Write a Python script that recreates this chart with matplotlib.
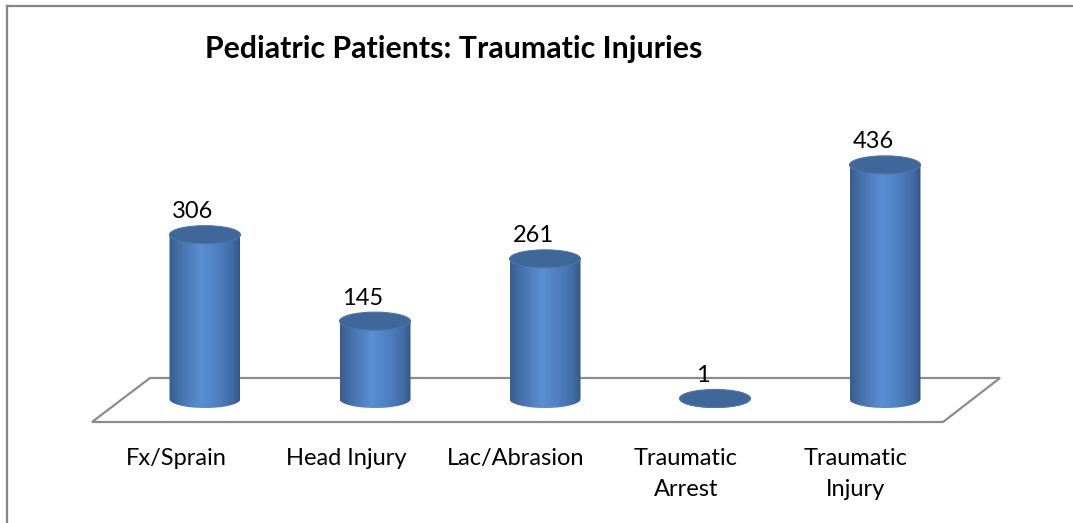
import matplotlib
matplotlib.use("Agg")
import matplotlib.pyplot as plt
import numpy as np
from matplotlib.patches import Ellipse, Polygon
from matplotlib.colors import LinearSegmentedColormap
from matplotlib.lines import Line2D

categories = ["Fx/Sprain", "Head Injury", "Lac/Abrasion", "Traumatic\nArrest", "Traumatic\nInjury"]
values = [306, 145, 261, 1, 436]
title = "Pediatric Patients: Traumatic Injuries"

plt.rcParams['font.family'] = ['Lato', 'DejaVu Sans']

W, H = 1073, 523
fig = plt.figure(figsize=(W / 100, H / 100), dpi=100)
ax = fig.add_axes([0, 0, 1, 1])

# pixel scale of the 3d-ish view
px_cat = 170.0      # pixels per category
px_val = 0.537      # pixels per unit value
x0_px, y0_px = 205.0, 399.0   # centre of first bar base (pixels from top-left)

ax.set_xlim(-x0_px / px_cat, (W - x0_px) / px_cat)
ax.set_ylim(-(H - y0_px) / px_val, y0_px / px_val)
ax.axis("off")

def px2x(dx):
    return dx / px_cat

def px2y(dy):
    return dy / px_val

# floor
back_y = px2y(y0_px - 378)
front_y = px2y(y0_px - 422)
floor = Polygon([(px2x(150 - 205), back_y), (px2x(1000 - 205), back_y),
                 (px2x(943 - 205), front_y), (px2x(92 - 205), front_y)],
                closed=True, facecolor="white", edgecolor="#8c8c8c", lw=1.6, zorder=1)
ax.add_patch(floor)

bw = px2x(71)      # cylinder width
eh = px2y(18)      # ellipse height

cmap = LinearSegmentedColormap.from_list("cyl", [
    (0.0, "#395c8c"), (0.15, "#4571ab"), (0.45, "#5a8fd3"),
    (0.7, "#4d7fc0"), (0.9, "#416ba3"), (1.0, "#365784")])
grad = np.linspace(0, 1, 256).reshape(1, -1)

t = np.linspace(np.pi, 2 * np.pi, 60)
for i, v in enumerate(values):
    # body with bottom half-ellipse
    xs = i + bw / 2 * np.cos(t)
    ys = eh / 2 * np.sin(t)
    pts = list(zip(xs, ys)) + [(i + bw / 2, v), (i - bw / 2, v)]
    body = Polygon(pts, closed=True, facecolor="none", edgecolor="none", zorder=2)
    ax.add_patch(body)
    im = ax.imshow(grad, cmap=cmap, extent=(i - bw / 2, i + bw / 2, -eh / 2, v),
                   aspect="auto", zorder=2, interpolation="bilinear")
    im.set_clip_path(body)
    top = Ellipse((i, v), bw, eh, facecolor="#3f6799", edgecolor="#4a76ad",
                  lw=0.8, zorder=3)
    ax.add_patch(top)
    ax.text(i - px2x(12), v + px2y(23), str(v), ha="center", va="center",
            fontsize=17, color="black", zorder=4)
    ax.text(i - px2x(29), px2y(y0_px - 448), categories[i], ha="center", va="top",
            fontsize=17, color="black", linespacing=1.58)

ax.text(0, px2y(y0_px - 49), title, ha="left", va="center",
        fontsize=21.8, fontweight="bold", color="black")

# chart border (left and top visible)
fig.add_artist(Line2D([6.5 / W, 6.5 / W], [0, 1 - 5.5 / H], transform=fig.transFigure,
                      color="#868686", lw=1.6))
fig.add_artist(Line2D([6.5 / W, 1], [1 - 5.5 / H, 1 - 5.5 / H], transform=fig.transFigure,
                      color="#868686", lw=1.6))

fig.savefig("out.png", dpi=100, facecolor="white")
